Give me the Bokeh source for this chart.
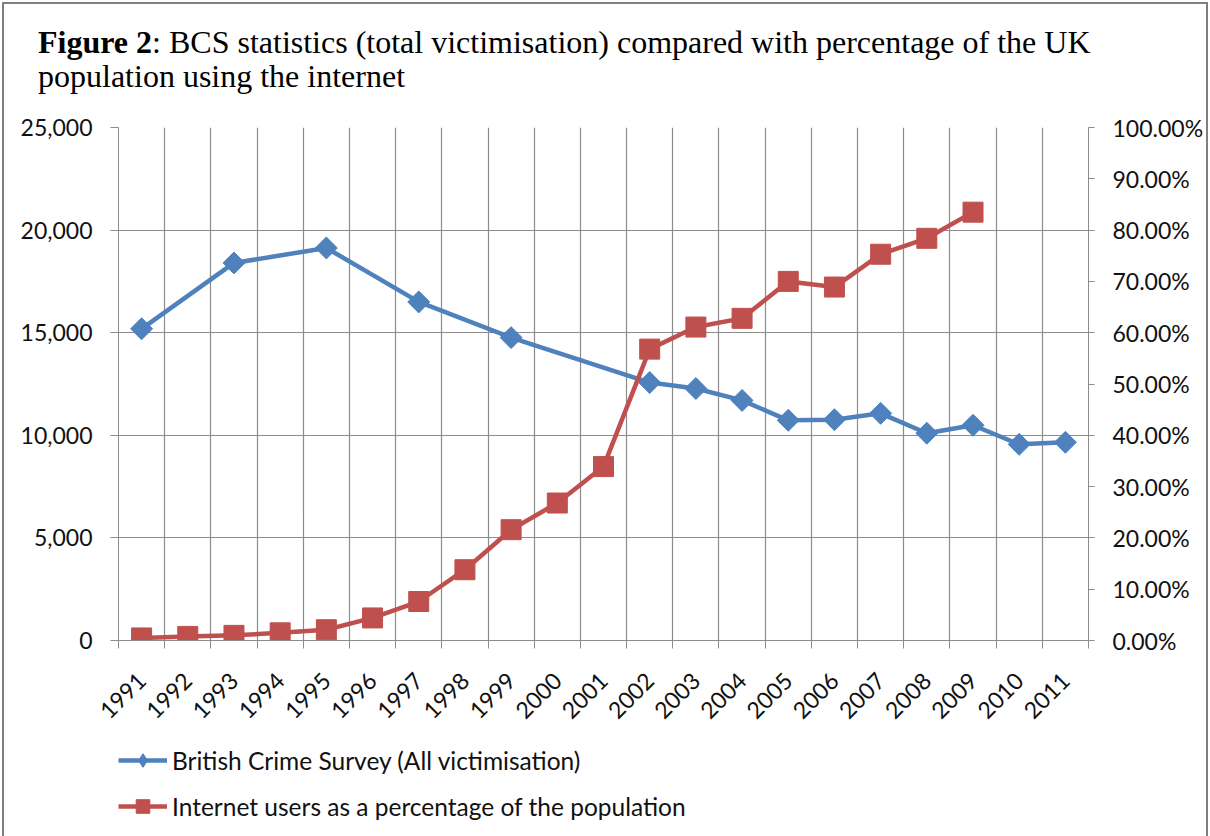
import math
from bokeh.plotting import figure
from bokeh.layouts import column
from bokeh.models import (Range1d, LinearAxis, FixedTicker, NumeralTickFormatter,
                          PrintfTickFormatter, Legend, LegendItem, Div)
from bokeh.embed import file_html
from bokeh.resources import INLINE

# ---- data ----
years = list(range(1991, 2012))
bcs_years = [1991, 1993, 1995, 1997, 1999, 2002, 2003, 2004, 2005, 2006, 2007, 2008, 2009, 2010, 2011]
bcs_values = [15190, 18400, 19130, 16500, 14760, 12570, 12280, 11700, 10730, 10760, 11070, 10100, 10490, 9560, 9660]
net_years = list(range(1991, 2010))
net_pct = [0.5, 0.8, 1.0, 1.5, 2.1, 4.4, 7.6, 13.8, 21.6, 26.8, 33.9, 56.8, 61.1, 62.8, 70.0, 68.9, 75.3, 78.4, 83.5]
left_ticks = [0, 5000, 10000, 15000, 20000, 25000]
right_ticks = [0, 10, 20, 30, 40, 50, 60, 70, 80, 90, 100]

title_bold = "Figure 2"
title_rest = ": BCS statistics (total victimisation) compared with percentage of the UK"
title_line2 = "population using the internet"
bcs_label = "British Crime Survey (All victimisation)"
net_label = "Internet users as a percentage of the population"

BLUE = "#4F81BD"
RED = "#C0504D"
GRID = "#8c8c8c"
FONT = "Lato"
TICK_SIZE = "23px"
TITLE_H = 100
LEG_H = 110

# ---- title ----
title_html = (
    '<div style="position:absolute; left:38px; top:25px; white-space:nowrap; '
    "font-family:'Liberation Serif'; font-size:32px; line-height:34px; color:#000;\">"
    f"<b>{title_bold}</b>{title_rest}<br>{title_line2}</div>"
)
tdiv = Div(text=title_html, width=1210, height=TITLE_H, margin=(0, 0, 0, 0),
           styles={"position": "relative"})

# ---- main chart ----
p = figure(frame_width=970, frame_height=513, output_backend="svg", toolbar_location=None,
           x_range=Range1d(years[0] - 0.5, years[-1] + 0.5),
           y_range=Range1d(0, 25000),
           min_border_left=118, min_border_right=122, min_border_top=127 - TITLE_H,
           min_border_bottom=96, tools="")
p.outline_line_color = None
p.background_fill_color = "white"
p.border_fill_color = None

p.extra_y_ranges = {"pct": Range1d(0, 100)}

# x axis
xa = p.xaxis[0]
xa.ticker = FixedTicker(ticks=years, minor_ticks=[y - 0.5 for y in years] + [years[-1] + 0.5])
xa.major_tick_out = 0
xa.major_tick_in = 0
xa.minor_tick_out = 8
xa.minor_tick_in = 0
xa.minor_tick_line_color = GRID
xa.axis_line_color = GRID
xa.major_label_orientation = math.pi / 4
xa.major_label_text_font = FONT
xa.major_label_text_font_size = TICK_SIZE
xa.major_label_text_color = "#111111"
xa.major_label_standoff = 28
xa.formatter = PrintfTickFormatter(format="%d")

# left y axis
ya = p.yaxis[0]
ya.ticker = FixedTicker(ticks=left_ticks)
ya.formatter = NumeralTickFormatter(format="0,0")
ya.major_tick_out = 8
ya.major_tick_in = 0
ya.minor_tick_out = 0
ya.minor_tick_in = 0
ya.major_tick_line_color = GRID
ya.axis_line_color = GRID
ya.major_label_text_font = FONT
ya.major_label_text_font_size = TICK_SIZE
ya.major_label_text_color = "#111111"
ya.major_label_standoff = 18

# right y axis
ra = LinearAxis(y_range_name="pct", ticker=FixedTicker(ticks=right_ticks),
                formatter=PrintfTickFormatter(format="%.2f%%"))
ra.major_tick_out = 6
ra.major_tick_in = 0
ra.minor_tick_out = 0
ra.minor_tick_in = 0
ra.major_tick_line_color = GRID
ra.axis_line_color = GRID
ra.major_label_text_font = FONT
ra.major_label_text_font_size = TICK_SIZE
ra.major_label_text_color = "#111111"
ra.major_label_standoff = 18
p.add_layout(ra, "right")

# grids
p.xgrid.ticker = FixedTicker(ticks=[y - 0.5 for y in years] + [years[-1] + 0.5])
p.xgrid.grid_line_color = GRID
p.xgrid.grid_line_width = 1.2
p.ygrid.ticker = FixedTicker(ticks=left_ticks)
p.ygrid.grid_line_color = GRID
p.ygrid.grid_line_width = 1.2

# series
p.line(bcs_years, bcs_values, line_color=BLUE, line_width=4.5)
p.scatter(bcs_years, bcs_values, marker="square", angle=math.pi / 4, size=15.5,
          fill_color=BLUE, line_color=BLUE)
p.line(net_years, net_pct, line_color=RED, line_width=4.5, y_range_name="pct")
p.scatter(net_years, net_pct, marker="square", size=20,
          fill_color=RED, line_color=RED, y_range_name="pct")

# ---- legend strip (same series, drawn off-frame; only the legend shows) ----
lf = figure(width=1210, height=LEG_H, output_backend="svg", toolbar_location=None, tools="",
            x_range=Range1d(0, 1), y_range=Range1d(0, 1),
            x_axis_location=None, y_axis_location=None,
            min_border=0, min_border_left=0, min_border_right=0,
            min_border_top=0, min_border_bottom=0)
lf.grid.visible = False
lf.outline_line_color = None
lf.border_fill_color = None
lf.background_fill_color = None
g1 = lf.line(bcs_years, bcs_values, line_color=BLUE, line_width=4.5)
k1 = lf.scatter(bcs_years, bcs_values, marker="diamond", size=12,
                fill_color=BLUE, line_color=BLUE)
g2 = lf.line(net_years, net_pct, line_color=RED, line_width=4.5)
k2 = lf.scatter(net_years, net_pct, marker="square", size=12, fill_color=RED, line_color=RED)
legend = Legend(items=[LegendItem(label=bcs_label, renderers=[g1, k1]),
                       LegendItem(label=net_label, renderers=[g2, k2])],
                location=(0, LEG_H - 87), orientation="vertical")
legend.border_line_color = None
legend.background_fill_alpha = 0
legend.padding = 0
legend.margin = 0
legend.spacing = 12
legend.glyph_width = 49
legend.glyph_height = 34
legend.label_standoff = 5
legend.label_text_font = FONT
legend.label_text_font_size = "24.5px"
legend.label_text_color = "#111111"
lf.add_layout(legend, "center")

layout = column(tdiv, p, lf, spacing=0,
                styles={"outline": "2px solid #7f7f7f", "outline-offset": "-4px"})
open("out.html", "w").write(file_html(layout, INLINE))
